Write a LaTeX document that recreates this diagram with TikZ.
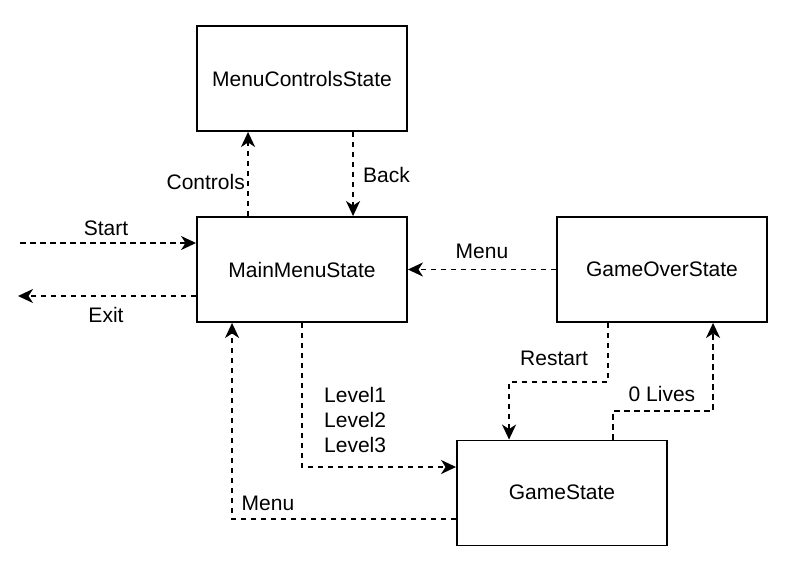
\documentclass[tikz,border=0pt]{standalone}
\usepackage{fontspec}
\setmainfont{Liberation Sans}
\usetikzlibrary{arrows.meta,calc}
\begin{document}
\begin{tikzpicture}[x=1pt,y=-1pt,
  every node/.style={font=\fontsize{21pt}{25pt}\selectfont, inner sep=0pt},
  statebox/.style={draw, line width=1.9pt, minimum width=210pt, minimum height=105pt, fill=white},
  conn/.style={draw, line width=1.9pt, dash pattern=on 5.5pt off 4.5pt,
    -{Stealth[length=15pt,width=14pt,inset=4.5pt]}},
  lbl/.style={}]
\useasboundingbox (0,0) rectangle (789,571);
\node[statebox] (mcs) at (302,78.5) {MenuControlsState};
\node[statebox] (mms) at (302,269.5) {MainMenuState};
\node[statebox] (gos) at (662,269.5) {GameOverState};
\node[statebox] (gs)  at (562,493) {\raisebox{2pt}{GameState}};
\coordinate (startL) at (20,243);
\coordinate (exitL) at (18,296);
% Controls
\draw[conn] ($(mms.north west)+(52,0)$) coordinate (c1) -- (c1 |- mcs.south);
\node[lbl, anchor=east] (lcontrols) at (245,182) {Controls};
% Back
\draw[conn] ($(mcs.south west)+(157,0)$) coordinate (b1) -- (b1 |- mms.north);
\node[lbl, anchor=west] (lback) at (363,175) {Back};
% Start
\draw[conn] (startL) -- (startL -| mms.west);
\node[lbl] (lstart) at (106,228) {Start};
% Exit
\draw[conn] (exitL -| mms.west) -- (exitL);
\node[lbl] (lexit) at (106,315) {Exit};
% Menu from GameOver
\draw[conn] (gos.west) -- (mms.east);
\node[lbl] (lmenu1) at (482,251) {Menu};
% Levels
\draw[conn] (mms.south) |- ($(gs.west)+(0,-26)$);
\node[lbl, anchor=west, align=left] (llevels) at (324,420) {Level1\\Level2\\Level3};
% Menu from GameState
\draw[conn] ($(gs.west)+(0,26)$) -| ($(mms.south west)+(36,0)$);
\node[lbl] (lmenu2) at (268,503) {Menu};
% Restart
\draw[conn] ($(gos.south west)+(52,0)$) -- ++(0,59) -| ($(gs.north west)+(53,0)$);
\node[lbl] (lrestart) at (554,358) {Restart};
% 0 Lives
\draw[conn] ($(gs.north west)+(157,0)$) -- ++(0,-29) -| ($(gos.south west)+(157,0)$);
\node[lbl] (llives) at (662,394) {0 Lives};
\end{tikzpicture}
\end{document}
